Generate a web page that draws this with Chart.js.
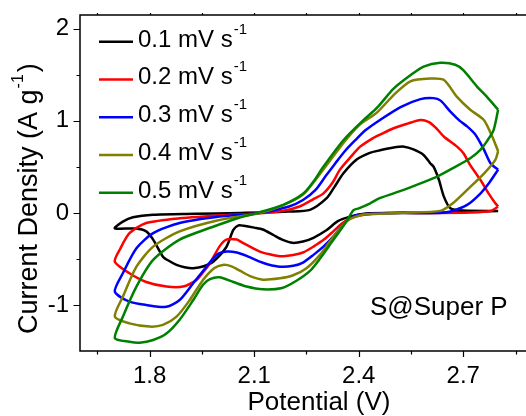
<!DOCTYPE html>
<html>
<head>
<meta charset="utf-8">
<script src="https://cdn.jsdelivr.net/npm/chart.js@4.4.1/dist/chart.umd.min.js"></script>
<style>
  html, body { margin: 0; padding: 0; background: #fff; }
  #wrap { width: 526px; height: 416px; }
</style>
</head>
<body>
<div id="wrap"><canvas id="cvChart"></canvas></div>
<script>
// scan rates (mV/s) and their line colours
var scanRates = ['0.1', '0.2', '0.3', '0.4', '0.5'];
var lineColors = ['#000000', '#ff0000', '#0000ff', '#808000', '#008000'];

// each loop: cathodic sweep 2.8 -> 1.7 V, then anodic sweep back to 2.8 V
var potential01 = [2.80, 2.70, 2.60, 2.50, 2.42, 2.375, 2.34, 2.308, 2.27, 2.24, 2.21, 2.18, 2.155, 2.125, 2.10, 2.07, 2.055, 2.04, 2.02, 1.982, 1.955, 1.925, 1.90, 1.877, 1.855, 1.838, 1.81, 1.79, 1.76, 1.70,
                   1.723, 1.752, 1.81, 1.93, 2.06, 2.20, 2.26, 2.308, 2.33, 2.356, 2.394, 2.43, 2.461, 2.50, 2.53, 2.557, 2.586, 2.605, 2.615, 2.63, 2.644, 2.663, 2.70, 2.80];
var current01 = [0.02, 0.01, 0.0, 0.0, -0.005, -0.04, -0.09, -0.185, -0.27, -0.31, -0.325, -0.29, -0.24, -0.18, -0.16, -0.14, -0.135, -0.185, -0.37, -0.53, -0.58, -0.60, -0.59, -0.565, -0.52, -0.475, -0.29, -0.20, -0.17, -0.167,
                 -0.094, -0.047, -0.02, -0.01, 0.0, 0.015, 0.033, 0.16, 0.28, 0.43, 0.58, 0.65, 0.68, 0.71, 0.72, 0.69, 0.63, 0.54, 0.50, 0.36, 0.18, 0.05, 0.025, 0.02];

var potential02 = [2.80, 2.778, 2.72, 2.60, 2.50, 2.44, 2.40, 2.375, 2.35, 2.327, 2.30, 2.27, 2.24, 2.212, 2.174, 2.145, 2.116, 2.08, 2.06, 2.05, 2.02, 2.00, 1.973, 1.95, 1.934, 1.896, 1.848, 1.79, 1.742, 1.70,
                   1.714, 1.742, 1.79, 1.886, 2.03, 2.116, 2.18, 2.23, 2.27, 2.298, 2.325, 2.346, 2.375, 2.404, 2.44, 2.461, 2.50, 2.54, 2.577, 2.60, 2.62, 2.644, 2.682, 2.70, 2.72, 2.749, 2.773, 2.792, 2.80];
var current02 = [0.07, 0.02, 0.005, 0.0, 0.0, -0.01, -0.03, -0.058, -0.12, -0.20, -0.29, -0.366, -0.43, -0.456, -0.47, -0.45, -0.42, -0.35, -0.31, -0.29, -0.29, -0.366, -0.547, -0.66, -0.73, -0.80, -0.80, -0.75, -0.656, -0.53,
                 -0.40, -0.22, -0.11, -0.058, -0.02, -0.005, 0.02, 0.07, 0.15, 0.21, 0.33, 0.47, 0.60, 0.72, 0.81, 0.85, 0.92, 0.97, 1.01, 0.99, 0.93, 0.83, 0.72, 0.65, 0.52, 0.36, 0.21, 0.105, 0.07];

var potential03 = [2.80, 2.775, 2.749, 2.711, 2.663, 2.63, 2.50, 2.40, 2.375, 2.35, 2.327, 2.30, 2.27, 2.24, 2.212, 2.174, 2.14, 2.116, 2.08, 2.05, 2.02, 1.992, 1.963, 1.925, 1.886, 1.848, 1.79, 1.742, 1.70,
                   1.723, 1.762, 1.81, 1.886, 2.00, 2.116, 2.20, 2.24, 2.276, 2.305, 2.333, 2.36, 2.39, 2.42, 2.461, 2.52, 2.577, 2.614, 2.635, 2.663, 2.69, 2.711, 2.735, 2.759, 2.778, 2.80];
var current03 = [0.47, 0.33, 0.21, 0.087, 0.015, 0.0, 0.0, -0.02, -0.058, -0.15, -0.257, -0.36, -0.456, -0.54, -0.575, -0.584, -0.56, -0.53, -0.47, -0.43, -0.42, -0.456, -0.584, -0.764, -0.946, -1.02, -1.0, -0.964, -0.855,
                 -0.656, -0.384, -0.22, -0.11, -0.04, 0.0, 0.07, 0.14, 0.25, 0.40, 0.54, 0.67, 0.79, 0.90, 1.01, 1.15, 1.236, 1.247, 1.22, 1.10, 1.0, 0.94, 0.85, 0.69, 0.54, 0.47];

var potential04 = [2.80, 2.792, 2.76, 2.711, 2.67, 2.634, 2.53, 2.46, 2.41, 2.365, 2.34, 2.317, 2.29, 2.25, 2.21, 2.174, 2.125, 2.09, 2.06, 2.035, 2.01, 1.985, 1.953, 1.915, 1.877, 1.838, 1.80, 1.742, 1.70,
                   1.723, 1.762, 1.81, 1.886, 2.00, 2.116, 2.18, 2.24, 2.298, 2.356, 2.40, 2.452, 2.50, 2.548, 2.605, 2.644, 2.682, 2.72, 2.759, 2.783, 2.80];
var current04 = [0.67, 0.576, 0.43, 0.25, 0.105, 0.022, 0.003, -0.01, -0.02, -0.09, -0.20, -0.31, -0.45, -0.60, -0.68, -0.71, -0.725, -0.69, -0.63, -0.58, -0.565, -0.60, -0.728, -0.946, -1.127, -1.217, -1.235, -1.20, -1.127,
                 -0.91, -0.584, -0.366, -0.20, -0.076, 0.0, 0.08, 0.20, 0.47, 0.76, 0.95, 1.09, 1.28, 1.43, 1.46, 1.446, 1.26, 1.12, 1.01, 0.83, 0.67];

var potential05 = [2.80, 2.787, 2.768, 2.749, 2.72, 2.67, 2.625, 2.577, 2.529, 2.46, 2.433, 2.40, 2.385, 2.37, 2.345, 2.317, 2.29, 2.26, 2.22, 2.18, 2.125, 2.078, 2.04, 2.00, 1.973, 1.953, 1.925, 1.886, 1.848, 1.81, 1.771, 1.742, 1.70,
                   1.723, 1.762, 1.81, 1.886, 1.982, 2.05, 2.10, 2.183, 2.241, 2.27, 2.298, 2.356, 2.414, 2.452, 2.50, 2.55, 2.586, 2.634, 2.677, 2.70, 2.74, 2.768, 2.80];
var current05 = [1.12, 0.90, 0.78, 0.685, 0.594, 0.486, 0.395, 0.32, 0.25, 0.16, 0.105, 0.05, 0.03, -0.06, -0.20, -0.345, -0.49, -0.63, -0.74, -0.815, -0.83, -0.80, -0.75, -0.70, -0.72, -0.78, -0.946, -1.16, -1.31, -1.38, -1.41, -1.40, -1.36,
                 -1.127, -0.80, -0.51, -0.29, -0.15, -0.06, -0.01, 0.087, 0.21, 0.34, 0.50, 0.79, 1.01, 1.14, 1.35, 1.50, 1.59, 1.63, 1.61, 1.55, 1.37, 1.26, 1.12];

var potentials = [potential01, potential02, potential03, potential04, potential05];
var currents = [current01, current02, current03, current04, current05];

// axis ticks (minor ticks have no label)
var xTickValues = [1.65, 1.8, 1.95, 2.1, 2.25, 2.4, 2.55, 2.7, 2.85];
var xTickLabels = [1.8, 2.1, 2.4, 2.7];
var yTickValues = [-1, -0.5, 0, 0.5, 1, 1.5, 2];
var yTickLabels = [-1, 0, 1, 2];

var fontFamily = '"Liberation Sans", Arial, sans-serif';

var datasets = scanRates.map(function(rate, i) {
    return {
        label: rate + ' mV s',
        data: potentials[i].map(function(v, j) { return { x: v, y: currents[i][j] }; }),
        borderColor: lineColors[i],
        backgroundColor: lineColors[i],
        borderWidth: 2.5,
        pointRadius: 0,
        showLine: true,
        tension: 0.25,
        order: scanRates.length - i
    };
});

// frame, tick marks, axis titles, legend and label
var decorations = {
    id: 'decorations',
    afterDraw: function(chart) {
        var ctx = chart.ctx;
        var area = chart.chartArea;
        var xs = chart.scales.x, ys = chart.scales.y;
        ctx.save();
        ctx.strokeStyle = '#000';
        ctx.lineWidth = 1.5;
        ctx.beginPath();
        ctx.moveTo(area.right, area.top);
        ctx.lineTo(area.left, area.top);
        ctx.lineTo(area.left, area.bottom);
        ctx.lineTo(area.right, area.bottom);
        ctx.stroke();

        ctx.lineWidth = 1.2;
        ctx.beginPath();
        xs.ticks.forEach(function(t) {
            var px = Math.round(xs.getPixelForValue(t.value)) + 0.5;
            var len = xTickLabels.indexOf(t.value) >= 0 ? 6 : 3.5;
            ctx.moveTo(px, area.bottom); ctx.lineTo(px, area.bottom + len);
            ctx.moveTo(px, area.top); ctx.lineTo(px, area.top - 2);
        });
        ys.ticks.forEach(function(t) {
            var py = Math.round(ys.getPixelForValue(t.value)) + 0.5;
            var len = yTickLabels.indexOf(t.value) >= 0 ? 6.5 : 3.5;
            ctx.moveTo(area.left, py); ctx.lineTo(area.left - len, py);
        });
        ctx.stroke();

        ctx.fillStyle = '#000';
        ctx.textBaseline = 'alphabetic';
        ctx.textAlign = 'left';

        // x title
        ctx.font = '26px ' + fontFamily;
        var xt = 'Potential (V)';
        ctx.fillText(xt, 319 - ctx.measureText(xt).width / 2, 410);

        // y title with superscript, rotated
        ctx.save();
        ctx.translate(37, 334);
        ctx.rotate(-Math.PI / 2);
        ctx.font = '27px ' + fontFamily;
        var yt = 'Current Density (A g';
        ctx.fillText(yt, 0, 0);
        var w = ctx.measureText(yt).width;
        ctx.font = '16px ' + fontFamily;
        ctx.fillText('-1', w + 1, -14);
        w += ctx.measureText('-1').width + 3;
        ctx.font = '27px ' + fontFamily;
        ctx.fillText(')', w, 0);
        ctx.restore();

        // legend
        chart.data.datasets.forEach(function(ds, i) {
            var base = 46.7 + i * 37.75;
            ctx.strokeStyle = ds.borderColor;
            ctx.lineWidth = 2.5;
            ctx.beginPath();
            ctx.moveTo(99, base - 5);
            ctx.lineTo(133, base - 5);
            ctx.stroke();
            ctx.font = '24px ' + fontFamily;
            ctx.fillText(ds.label, 138, base);
            var lw = ctx.measureText(ds.label).width;
            ctx.font = '15px ' + fontFamily;
            ctx.fillText('-1', 138 + lw + 1, base - 13);
        });

        ctx.font = '26px ' + fontFamily;
        ctx.fillText('S@Super P', 370, 315);
        ctx.restore();
    }
};

var ctx = document.getElementById('cvChart').getContext('2d');
var cvChart = new Chart(ctx, {
    type: 'scatter',
    data: { datasets: datasets },
    options: {
        responsive: true,
        maintainAspectRatio: false,
        animation: false,
        layout: { padding: { top: 15, right: 0, bottom: 0, left: 0 } },
        plugins: {
            legend: { display: false },
            tooltip: { enabled: false }
        },
        scales: {
            x: {
                type: 'linear',
                min: 1.6,
                max: 2.88,
                grid: { display: false, drawTicks: false },
                border: { display: false },
                afterBuildTicks: function(scale) {
                    scale.ticks = xTickValues.map(function(v) { return { value: v }; });
                },
                afterFit: function(scale) {
                    scale.height = 65;
                    scale.paddingLeft = 0;
                    scale.paddingRight = 0;
                },
                ticks: {
                    autoSkip: false,
                    maxRotation: 0,
                    padding: 11,
                    color: '#000',
                    font: { family: fontFamily, size: 24 },
                    callback: function(value) {
                        return xTickLabels.indexOf(value) >= 0 ? value.toFixed(1) : '';
                    }
                }
            },
            y: {
                type: 'linear',
                min: -1.5,
                max: 2.15,
                grid: { display: false, drawTicks: false },
                border: { display: false },
                afterBuildTicks: function(scale) {
                    scale.ticks = yTickValues.map(function(v) { return { value: v }; });
                },
                afterFit: function(scale) {
                    scale.width = 80;
                    scale.paddingTop = 0;
                    scale.paddingBottom = 0;
                },
                ticks: {
                    autoSkip: false,
                    padding: 11,
                    color: '#000',
                    font: { family: fontFamily, size: 24 },
                    callback: function(value) {
                        return yTickLabels.indexOf(value) >= 0 ? String(value) : '';
                    }
                }
            }
        }
    },
    plugins: [decorations]
});
</script>
</body>
</html>
